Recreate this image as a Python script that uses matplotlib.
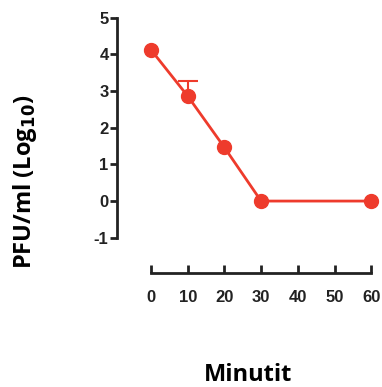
import matplotlib.pyplot as plt

plt.rcParams['axes.unicode_minus'] = False

minutes = [0, 10, 20, 30, 60]
pfu_log = [4.12, 2.86, 1.46, 0.0, 0.0]
err_x = [10]
err_y = [2.86]
err_up = [0.40]
x_ticks = [0, 10, 20, 30, 40, 50, 60]
y_ticks = [-1, 0, 1, 2, 3, 4, 5]

red = '#EE3B2C'
dark = '#222222'

fig = plt.figure(figsize=(3.82, 3.87), dpi=100)
ax = fig.add_axes([0.306, 0.2946, 0.685, 0.679])

# upper error bar only (lower half hidden behind the marker)
err_top = [y + e for y, e in zip(err_y, err_up)]
ax.vlines(err_x, err_y, err_top, color=red, lw=1.5, zorder=2)
ax.plot(err_x, err_top, ls='none', marker='_', ms=14, mew=1.5, color=red, zorder=2)
ax.plot(minutes, pfu_log, color=red, lw=2, marker='o', ms=10, zorder=3)

ax.set_xlim(-9.3, 62)
ax.set_ylim(-1.96, 5.2)

for s in ['top', 'right']:
    ax.spines[s].set_visible(False)
ax.spines['left'].set_bounds(-1, 5)
ax.spines['bottom'].set_bounds(0, 60)
for s in ['left', 'bottom']:
    ax.spines[s].set_linewidth(2)
    ax.spines[s].set_color(dark)

ax.set_xticks(x_ticks)
ax.set_yticks(y_ticks)
ax.tick_params(axis='y', direction='out', length=5, width=2, pad=1, color=dark)
ax.tick_params(axis='x', direction='in', length=6, width=2, pad=12, color=dark)
for lab in ax.get_xticklabels() + ax.get_yticklabels():
    lab.set_fontfamily('Liberation Sans')
    lab.set_fontweight('bold')
    lab.set_fontsize(12)
    lab.set_color(dark)

fig.text(0.065, 0.53, 'PFU/ml (Log$_{\\mathbf{10}}$)', rotation=90, ha='center', va='center',
         fontsize=17, fontweight='bold', family='Open Sans')
fig.text(0.65, 0.03, 'Minutit', ha='center', va='center',
         fontsize=17, fontweight='bold', family='Open Sans')

fig.savefig('out.png', dpi=100)
